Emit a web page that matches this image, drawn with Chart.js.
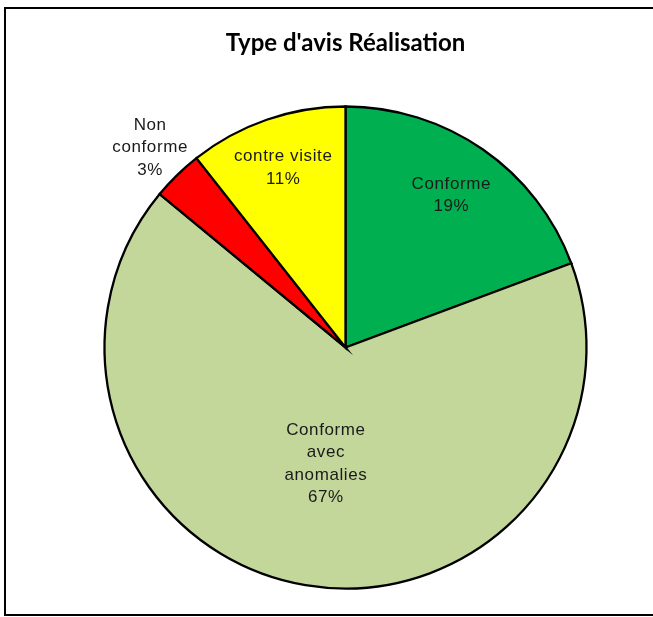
<!DOCTYPE html>
<html>
<head>
<meta charset="utf-8">
<script src="https://cdn.jsdelivr.net/npm/chart.js@4"></script>
<style>
  html, body { margin: 0; padding: 0; background: #fff; overflow: hidden; }
  #wrap { position: relative; width: 653px; height: 617px; }
  #frame {
    position: absolute; left: 4px; top: 7px; width: 700px; height: 609px;
    box-sizing: border-box; border: 2px solid #000; pointer-events: none;
  }
</style>
</head>
<body>
<div id="wrap">
  <canvas id="pie" width="653" height="617"></canvas>
  <div id="frame"></div>
</div>
<script>
// Data (clockwise from 12 o'clock)
const categories = [
  ['Conforme'],
  ['Conforme', 'avec', 'anomalies'],
  ['Non', 'conforme'],
  ['contre visite']
];
const shares = [19.3, 66.6, 3.4, 10.6];
const sliceColors = ['#00b050', '#c4d79b', '#ff0000', '#ffff00'];
// how far from the centre each label sits, as a fraction of the radius
const labelDistance = [0.77, 0.49, 1.16, 0.79];

const total = shares.reduce((a, b) => a + b, 0);

// Draws the "name / nn%" labels at each slice's mid angle
const sliceLabels = {
  id: 'sliceLabels',
  afterDatasetsDraw(chart) {
    const ctx = chart.ctx;
    const arcs = chart.getDatasetMeta(0).data;
    ctx.save();
    ctx.font = '17px "Liberation Sans", Arial, sans-serif';
    ctx.letterSpacing = '0.6px';
    ctx.fillStyle = '#1a1a1a';
    ctx.textAlign = 'center';
    ctx.textBaseline = 'middle';
    const lineH = 22.5;
    arcs.forEach((arc, i) => {
      const p = arc.getProps(['x', 'y', 'startAngle', 'endAngle', 'outerRadius'], true);
      const mid = (p.startAngle + p.endAngle) / 2;
      const r = p.outerRadius * labelDistance[i];
      const cx = p.x + Math.cos(mid) * r;
      const cy = p.y + Math.sin(mid) * r;
      const lines = categories[i].concat([Math.round(shares[i] / total * 100) + '%']);
      const top = cy - (lines.length - 1) * lineH / 2;
      lines.forEach((t, k) => ctx.fillText(t, cx, top + k * lineH));
    });
    ctx.restore();
  }
};

new Chart(document.getElementById('pie'), {
  type: 'pie',
  data: {
    labels: categories.map(c => c.join(' ')),
    datasets: [{
      data: shares,
      backgroundColor: sliceColors,
      borderColor: '#000',
      borderWidth: 2.3,
      borderJoinStyle: 'miter'
    }]
  },
  options: {
    responsive: false,
    animation: false,
    radius: 241,
    layout: { padding: { top: 0, left: 38, right: 0, bottom: 0 } },
    plugins: {
      legend: { display: false },
      tooltip: { enabled: false },
      title: {
        display: true,
        text: "Type d'avis Réalisation",
        color: '#000',
        font: { family: 'Lato, "Open Sans", sans-serif', size: 24, weight: 'bold', lineHeight: 1.2 },
        padding: { top: 28.6, bottom: 20.6 }
      }
    }
  },
  plugins: [sliceLabels]
});
</script>
</body>
</html>
